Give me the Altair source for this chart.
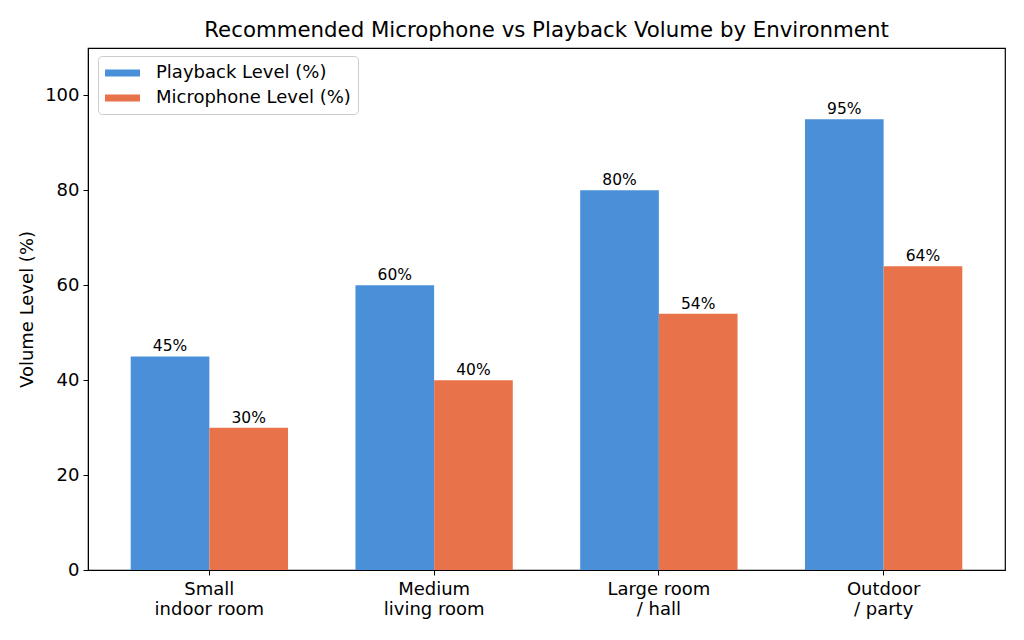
import pandas as pd
import altair as alt

# Values
environments = ["Small|indoor room", "Medium|living room", "Large room|/ hall", "Outdoor|/ party"]
playback = [45, 60, 80, 95]
microphone = [30, 40, 54, 64]
series = ["Playback Level (%)", "Microphone Level (%)"]
colors = ["#4A90D9", "#E8734A"]
y_ticks = [0, 20, 40, 60, 80, 100]

rows = []
for env, p, m in zip(environments, playback, microphone):
    rows.append({"env": env, "series": series[0], "value": p})
    rows.append({"env": env, "series": series[1], "value": m})
df = pd.DataFrame(rows)
df["label"] = df["value"].astype(str) + "%"

FONT = "DejaVu Sans"

x_enc = alt.X(
    "env:N", sort=environments, title=None,
    scale=alt.Scale(paddingInner=0.3, paddingOuter=0.19),
    axis=alt.Axis(labelAngle=0, labelExpr="split(datum.label, '|')", labelFontSize=18,
                  labelColor="black", labelLineHeight=20, labelPadding=5, tickSize=5,
                  tickColor="black", domainColor="black", labelFont=FONT),
)
xoff_enc = alt.XOffset("series:N", sort=series, scale=alt.Scale(paddingInner=0, paddingOuter=0))
y_enc = alt.Y(
    "value:Q", title="Volume Level (%)",
    scale=alt.Scale(domain=[0, 110], nice=False),
    axis=alt.Axis(values=y_ticks, grid=False, labelFontSize=18, labelColor="black",
                  titleFontSize=18, titleFontWeight="normal", titleColor="black",
                  tickSize=5, tickColor="black", domainColor="black", labelFont=FONT,
                  labelPadding=4, titleFont=FONT, titlePadding=8),
)

base = alt.Chart(df).encode(x=x_enc, xOffset=xoff_enc, y=y_enc)

# wide, flat legend swatch like matplotlib's patch handles
swatch = "M-1,-0.34L2.5,-0.34L2.5,0.34L-1,0.34Z"

bars = base.mark_bar().encode(
    color=alt.Color(
        "series:N", sort=series, title=None,
        scale=alt.Scale(domain=series, range=colors),
        legend=alt.Legend(
            orient="none", legendX=10, legendY=8, labelFontSize=18, labelColor="black",
            labelFont=FONT, labelLimit=0, symbolType=swatch,
            symbolSize=400, symbolStrokeWidth=0, symbolOpacity=1, rowPadding=6,
            labelOffset=31, strokeColor="#cccccc", fillColor="white", cornerRadius=4,
            padding=7,
        ),
    )
)

labels = base.mark_text(baseline="bottom", dy=-2, fontSize=15.5, font=FONT, color="black").encode(
    text="label:N"
)

chart = (
    (bars + labels)
    .properties(
        width=917,
        height=522,
        title=alt.TitleParams(
            "Recommended Microphone vs Playback Volume by Environment",
            fontSize=21.3, fontWeight="normal", font=FONT, color="black", offset=7,
        ),
        autosize=alt.AutoSizeParams(type="none"),
        padding={"left": 80, "top": 40, "right": 3, "bottom": 50},
    )
    .configure_view(stroke="black", strokeWidth=1.2)
)

chart.save("out.html", embed_options={"renderer": "svg", "actions": False})
